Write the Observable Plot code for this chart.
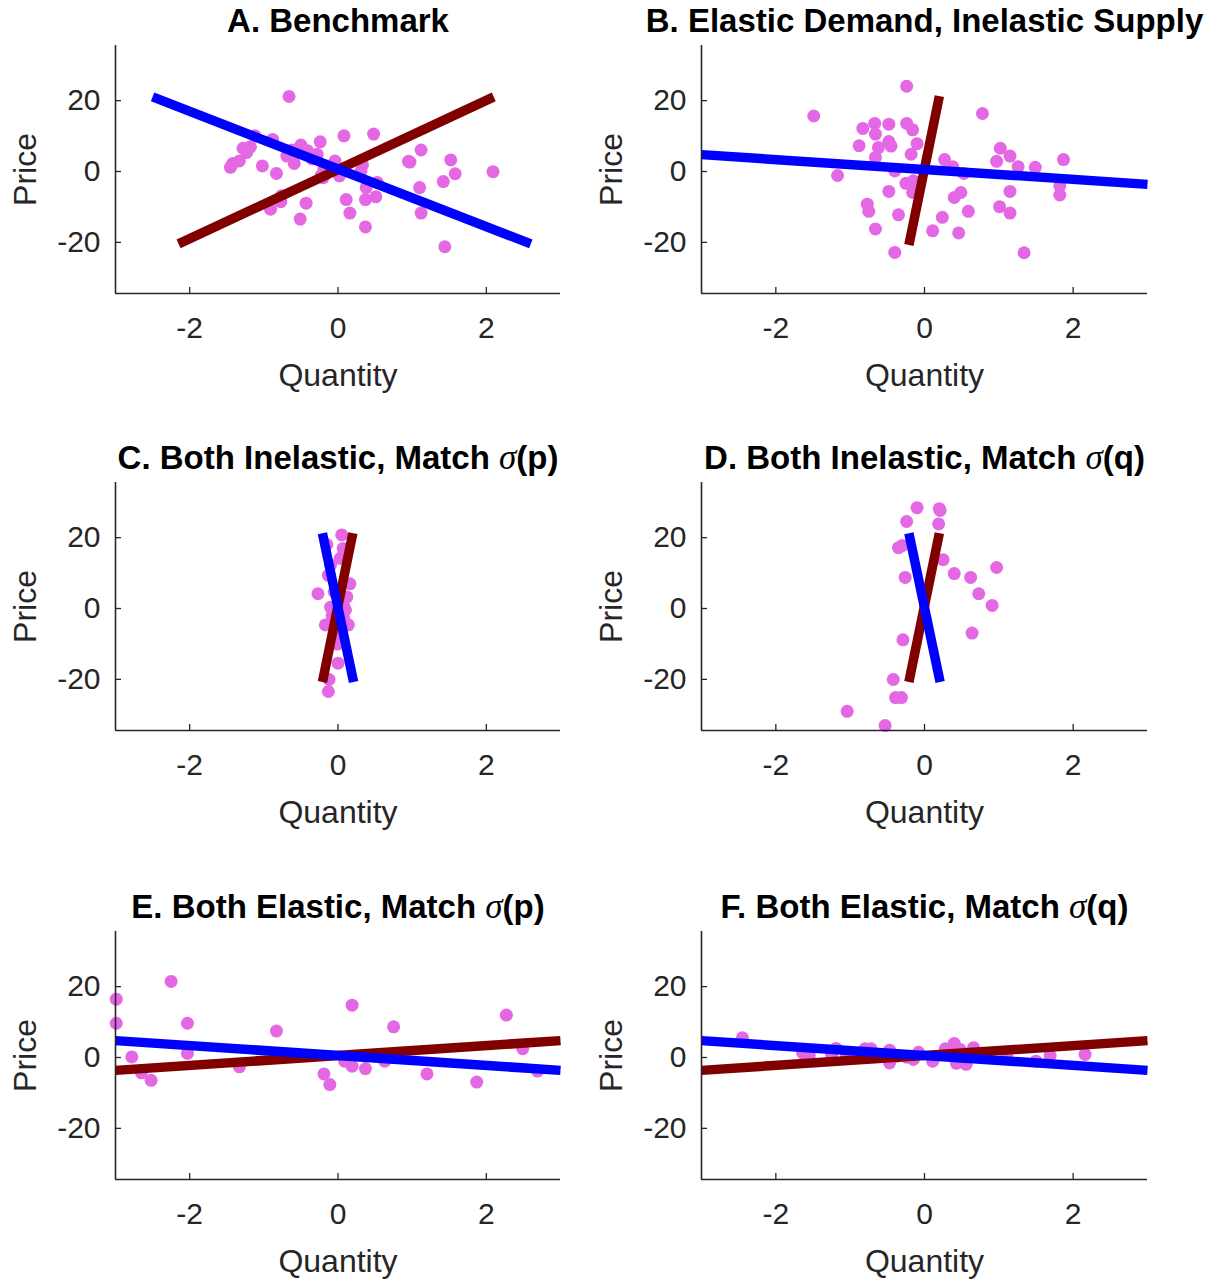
<!DOCTYPE html>
<html>
<head>
<meta charset="utf-8">
<script src="https://cdn.jsdelivr.net/npm/d3@7"></script>
<script src="https://cdn.jsdelivr.net/npm/@observablehq/plot@0.6"></script>
<style>
  html, body { margin: 0; padding: 0; background: #ffffff; }
  #wrap { position: relative; width: 1221px; height: 1281px; overflow: hidden; background: #ffffff; }
  #wrap svg { position: absolute; overflow: visible; }
</style>
</head>
<body>
<div id="wrap"></div>
<script>
// ---------- titles ----------
const titles = [
  "A. Benchmark",
  "B. Elastic Demand, Inelastic Supply",
  "C. Both Inelastic, Match σ(p)",
  "D. Both Inelastic, Match σ(q)",
  "E. Both Elastic, Match σ(p)",
  "F. Both Elastic, Match σ(q)"
];
const xTicks = [-2, 0, 2];
const yTicks = [-20, 0, 20];
const xLabel = "Quantity";
const yLabel = "Price";

// ---------- scatter points (quantity, price) ----------
const qA = [-0.66,0.08,0.48,-0.24,1.12,-0.88,-1.12,-1.28,-1.18,-1.23,-0.50,-0.41,-0.28,-0.69,-0.59,-1.02,-1.33,-1.42,-1.45,-0.83,-0.04,-0.19,-0.23,-0.20,0.02,0.33,0.31,0.38,0.53,0.51,0.37,0.11,0.16,0.37,-0.43,-0.51,-0.76,-0.77,-0.91,0.95,0.97,1.52,1.58,1.42,1.10,1.12,1.44,2.09,-0.62,-0.35];
const pA = [20.6,9.5,10.0,7.8,5.5,8.5,9.5,6.0,6.4,4.8,6.9,5.3,4.3,3.8,1.7,1.0,2.4,1.7,0.6,-1.1,2.4,0.1,-1.8,-2.3,-1.8,1.3,-0.4,-5.1,-3.7,-7.7,-8.5,-8.5,-12.3,-16.2,-9.5,-14.0,-7.4,-9.1,-11.2,2.3,2.1,2.7,-1.2,-3.4,-5.1,-12.3,-21.8,-0.6,5.5,3.0];

const qB = [-0.24,-1.49,0.78,-0.83,-0.67,-0.66,-0.48,-0.24,-0.16,-0.88,-0.62,-0.48,-0.45,-0.10,-0.18,-0.66,0.27,0.38,0.53,-0.40,-1.17,1.02,1.15,0.97,1.26,1.49,1.87,1.82,1.82,1.15,1.01,1.15,1.34,0.49,0.40,0.59,0.24,0.11,0.46,-0.25,-0.16,-0.48,-0.77,-0.75,-0.35,-0.66,-0.40,-0.15];
const pB = [23.5,15.1,15.8,11.6,13.0,10.0,12.8,13.0,11.2,6.7,6.2,7.9,6.6,7.3,4.3,3.4,2.8,0.8,-1.1,-0.4,-1.7,6.0,3.8,2.3,0.8,0.6,2.8,-4.6,-7.2,-6.2,-10.5,-12.3,-23.5,-6.5,-7.9,-11.8,-13.5,-17.3,-17.9,-3.9,-6.5,-6.2,-9.8,-11.8,-12.8,-16.8,-23.4,-3.2];

const qC = [0.05,0.07,0.03,-0.15,-0.13,0.16,-0.27,0.12,-0.10,0.08,-0.08,0.14,-0.17,0.08,-0.01,0.00,-0.12,-0.13,-0.05,0.04,-0.10,0.10,-0.02];
const pC = [20.2,16.4,13.6,17.5,8.8,6.4,3.6,2.7,-0.2,0.0,-2.6,-5.2,-5.2,-3.5,-10.6,-16.0,-20.6,-24.0,4.1,-7.3,11.7,-1.0,-8.0];

const qD = [-0.10,0.20,0.21,0.19,-0.24,-0.35,-0.30,0.25,0.40,0.62,0.97,0.73,0.91,-0.26,0.64,-0.29,-0.42,-0.39,-0.31,-1.04,-0.53];
const pD = [27.9,27.6,27.1,23.3,24.0,16.6,17.2,13.2,9.3,8.2,11.0,3.6,0.3,8.2,-7.5,-9.4,-20.6,-25.7,-25.7,-29.6,-33.6];

const qE = [-2.99,-2.99,-2.25,-2.03,-2.78,-2.65,-2.52,-2.03,-1.33,-0.83,-0.19,-0.11,0.19,0.09,0.19,0.37,0.75,0.63,1.20,1.87,2.27,2.49,2.69];
const pE = [15.9,9.1,20.9,9.1,-0.4,-4.9,-7.0,0.6,-3.2,6.9,-5.2,-8.2,14.2,-1.6,-3.0,-3.7,8.1,-1.6,-5.2,-7.5,11.4,1.9,-4.4];

const qF = [-2.45,-1.64,-1.55,-1.19,-1.25,-0.80,-0.72,-0.47,-0.47,-0.24,-0.08,-0.15,0.11,0.28,0.40,0.43,0.56,0.66,1.11,1.50,1.69,2.16,-0.37,0.48,-1.05];
const pF = [5.0,0.7,0.0,2.0,0.3,1.9,1.9,1.5,-2.1,-0.5,0.9,-1.1,-1.6,1.9,3.4,-2.2,-2.5,2.2,0.3,-1.6,0.0,0.3,-0.2,1.7,0.3];

// ---------- supply (red) and demand (blue) line end points ----------
const supplyQA = [-2.15, 2.10],  supplyPA = [-21.0, 20.5];
const demandQA = [-2.50, 2.60],  demandPA = [20.5, -21.0];
const supplyQB = [-0.21, 0.20],  supplyPB = [-21.3, 20.7];
const demandQB = [-3.00, 3.00],  demandPB = [4.2, -4.2];
const supplyQC = [-0.21, 0.20],  supplyPC = [-21.3, 20.7];
const demandQC = [-0.21, 0.21],  demandPC = [20.7, -21.3];
const supplyQD = [-0.21, 0.20],  supplyPD = [-21.3, 20.7];
const demandQD = [-0.21, 0.21],  demandPD = [20.7, -21.3];
const supplyQE = [-3.00, 3.00],  supplyPE = [-4.2, 4.2];
const demandQE = [-3.00, 3.00],  demandPE = [4.2, -4.2];
const supplyQF = [-3.00, 3.00],  supplyPF = [-4.2, 4.2];
const demandQF = [-3.00, 3.00],  demandPF = [4.2, -4.2];

// ---------- build ----------
const zip = (qs, ps) => qs.map((q, i) => ({q, p: ps[i]}));
const panels = [
  {pts: zip(qA, pA), sup: zip(supplyQA, supplyPA), dem: zip(demandQA, demandPA)},
  {pts: zip(qB, pB), sup: zip(supplyQB, supplyPB), dem: zip(demandQB, demandPB)},
  {pts: zip(qC, pC), sup: zip(supplyQC, supplyPC), dem: zip(demandQC, demandPC)},
  {pts: zip(qD, pD), sup: zip(supplyQD, supplyPD), dem: zip(demandQD, demandPD)},
  {pts: zip(qE, pE), sup: zip(supplyQE, supplyPE), dem: zip(demandQE, demandPE)},
  {pts: zip(qF, pF), sup: zip(supplyQF, supplyPF), dem: zip(demandQF, demandPF)}
];

const colLeft = [0, 586], colWidth = [600, 635], colMarginRight = [40, 74];
const rowTop = [0, 437, 886];
const axisColor = "#262626";
const font = "'Liberation Sans', Arial, Helvetica, sans-serif";
const wrap = document.getElementById("wrap");

panels.forEach((pn, i) => {
  const col = i % 2, row = Math.floor(i / 2);
  const chart = Plot.plot({
    width: colWidth[col],
    height: 403,
    marginLeft: 115,
    marginRight: colMarginRight[col],
    marginTop: 45,
    marginBottom: 110,
    style: {fontFamily: font, color: axisColor, background: "transparent", overflow: "visible"},
    x: {domain: [-3, 3]},
    y: {domain: [-35, 35]},
    marks: [
      Plot.dot(pn.pts, {x: "q", y: "p", r: 6.5, fill: "#e468e4", stroke: "none"}),
      Plot.line(pn.sup, {x: "q", y: "p", stroke: "#800000", strokeWidth: 9.5, strokeLinecap: "butt"}),
      Plot.line(pn.dem, {x: "q", y: "p", stroke: "#0000ff", strokeWidth: 9.5, strokeLinecap: "butt"}),
      Plot.ruleX([-3], {stroke: axisColor, strokeWidth: 1.6}),
      Plot.ruleY([-35], {stroke: axisColor, strokeWidth: 1.6}),
      Plot.axisX({ticks: xTicks, tickSize: -6, tickPadding: 29, tickFormat: d => String(d), label: null, fontSize: 30, stroke: axisColor, strokeWidth: 1.3}),
      Plot.axisY({ticks: yTicks, tickSize: -6, tickPadding: 21, tickFormat: d => String(d), label: null, fontSize: 30, dy: 2, stroke: axisColor, strokeWidth: 1.3}),
      Plot.text([xLabel], {frameAnchor: "bottom", dy: 92, lineAnchor: "bottom", textAnchor: "middle", fontSize: 32, fill: axisColor}),
      Plot.text([yLabel], {frameAnchor: "left", dx: -102, rotate: -90, lineAnchor: "top", textAnchor: "middle", fontSize: 32, fill: axisColor}),
      Plot.text([titles[i]], {frameAnchor: "top", dy: -14, lineAnchor: "bottom", textAnchor: "middle", fontSize: 33, fontWeight: "bold", fill: "#000000"})
    ]
  });
  chart.style.left = colLeft[col] + "px";
  chart.style.top = rowTop[row] + "px";
  // italic serif sigma inside titles
  chart.querySelectorAll("text").forEach(t => {
    const s = t.textContent;
    const k = s.indexOf("σ");
    if (k >= 0 && t.children.length === 0) {
      const ns = "http://www.w3.org/2000/svg";
      t.textContent = "";
      t.appendChild(document.createTextNode(s.slice(0, k)));
      const sg = document.createElementNS(ns, "tspan");
      sg.setAttribute("font-family", "'Liberation Serif', 'Times New Roman', serif");
      sg.setAttribute("font-style", "italic");
      sg.setAttribute("font-weight", "normal");
      sg.setAttribute("font-size", "35");
      sg.textContent = "σ";
      t.appendChild(sg);
      t.appendChild(document.createTextNode(s.slice(k + 1)));
    }
  });
  wrap.appendChild(chart);
});
</script>
</body>
</html>
